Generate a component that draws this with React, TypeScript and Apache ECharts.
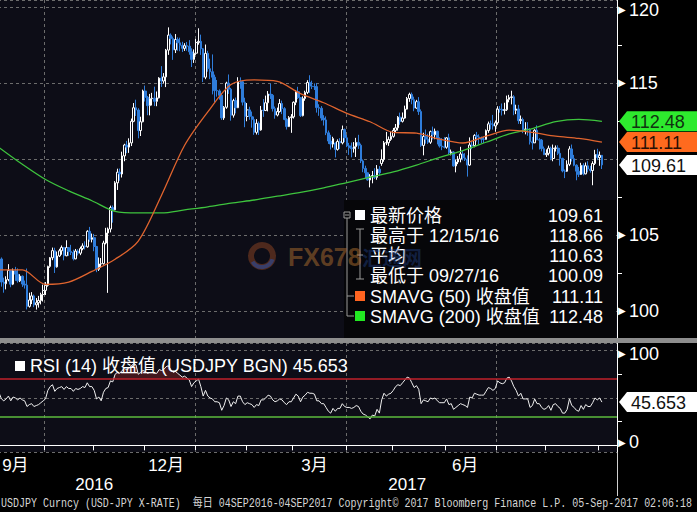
import React, { useEffect, useRef } from "react";
import * as echarts from "echarts";

// Daily candles: [open, close, low, high]
const sep2016 = [
  [103.95, 103.42, 103.27, 104.06], [103.42, 101.9, 101.6, 103.52], [101.9, 101.79, 101.2, 102.19], [101.79, 102.06, 101.42, 102.28],
  [102.06, 102.67, 101.95, 103.08], [102.67, 101.76, 101.56, 102.7], [101.76, 102.64, 101.7, 102.79], [102.64, 102.42, 101.98, 102.9],
  [102.42, 101.98, 101.86, 102.8], [101.98, 102.29, 101.9, 102.42], [102.29, 101.77, 101.58, 102.33], [101.77, 101.7, 101.47, 102.0],
  [101.7, 100.3, 100.1, 102.79], [100.3, 100.72, 100.22, 101.2], [100.72, 100.99, 100.45, 101.24], [100.99, 100.4, 100.25, 101.08],
  [100.4, 100.54, 100.09, 100.85], [100.54, 100.69, 100.22, 100.99], [100.69, 101.08, 100.43, 101.2], [101.08, 101.35, 100.62, 101.73],
];
const oct2016 = [
  [101.35, 101.69, 101.05, 101.9], [101.69, 102.93, 101.6, 102.98], [102.93, 103.5, 102.84, 103.55], [103.5, 103.97, 103.34, 104.17],
  [103.97, 102.9, 102.5, 104.16], [102.9, 103.62, 102.85, 103.91], [103.62, 103.96, 103.55, 104.09], [103.96, 104.18, 103.7, 104.31],
  [104.18, 103.63, 103.33, 104.21], [103.63, 104.17, 103.6, 104.65], [104.17, 103.91, 103.62, 104.2], [103.91, 103.85, 103.68, 104.35],
  [103.85, 103.43, 103.32, 104.03], [103.43, 103.94, 103.4, 104.08], [103.94, 103.8, 103.65, 104.06], [103.8, 104.1, 103.67, 104.23],
  [104.1, 104.28, 103.99, 104.45], [104.28, 104.22, 104.04, 104.58], [104.22, 105.24, 104.16, 105.31], [105.24, 104.71, 104.55, 105.53],
  [104.71, 104.82, 104.51, 105.09],
];
const nov2016 = [
  [104.82, 104.24, 103.93, 105.07], [104.24, 102.74, 102.55, 104.28], [102.74, 103.09, 102.63, 103.52], [103.09, 103.11, 102.83, 103.48],
  [103.11, 104.47, 103.05, 104.62], [104.47, 105.13, 104.38, 105.47], [105.13, 105.39, 101.19, 105.49], [105.39, 106.8, 105.17, 106.93],
  [106.8, 106.65, 105.81, 106.94], [106.65, 108.43, 106.62, 108.54], [108.43, 109.13, 107.96, 109.36], [109.13, 109.01, 108.57, 109.37],
  [109.01, 110.2, 108.78, 110.48], [110.2, 110.92, 109.85, 111.0], [110.92, 110.78, 110.38, 111.19], [110.78, 111.06, 110.4, 111.36],
  [111.06, 112.48, 110.85, 112.66], [112.48, 113.37, 112.42, 113.68], [113.37, 113.22, 112.83, 113.9], [113.22, 111.87, 111.36, 113.34],
  [111.87, 112.45, 111.51, 112.78], [112.45, 114.47, 112.41, 114.56],
];
const dec2016 = [
  [114.47, 114.06, 113.78, 114.83], [114.06, 113.51, 112.88, 114.15], [113.51, 113.97, 112.87, 114.28], [113.97, 114.0, 113.52, 114.35],
  [114.0, 113.79, 113.48, 114.76], [113.79, 114.02, 113.47, 114.44], [114.02, 115.32, 113.98, 115.38], [115.32, 115.13, 114.74, 116.11],
  [115.13, 115.4, 114.96, 115.65], [115.4, 117.16, 114.73, 117.24], [117.16, 118.15, 116.85, 118.66], [118.15, 117.92, 117.54, 118.26],
  [117.92, 117.18, 116.52, 118.06], [117.18, 117.86, 116.97, 118.22], [117.86, 117.64, 117.12, 118.0], [117.64, 117.48, 117.09, 117.98],
  [117.48, 117.28, 117.04, 117.71], [117.28, 117.45, 117.11, 117.62], [117.45, 117.42, 117.12, 117.7], [117.42, 117.05, 116.86, 117.82],
  [117.05, 116.55, 116.05, 117.28], [116.55, 116.96, 116.32, 117.21],
];
const jan2017 = [
  [116.96, 117.66, 116.85, 117.9], [117.66, 117.74, 117.52, 118.6], [117.74, 117.25, 116.85, 118.18], [117.25, 115.38, 115.06, 117.3],
  [115.38, 116.95, 115.25, 117.53], [116.95, 115.94, 115.74, 117.12], [115.94, 115.74, 115.25, 116.6], [115.74, 115.38, 114.25, 116.88],
  [115.38, 114.5, 113.75, 115.55], [114.5, 114.48, 114.1, 115.2], [114.48, 114.19, 113.9, 114.58], [114.19, 112.7, 112.57, 114.3],
  [112.7, 113.4, 112.57, 113.48], [113.4, 114.99, 113.3, 115.08], [114.99, 114.59, 114.28, 115.56], [114.59, 112.88, 112.52, 114.68],
  [112.88, 113.84, 112.72, 113.96], [113.84, 113.37, 113.0, 114.04], [113.37, 115.1, 113.35, 115.38], [115.1, 115.08, 114.62, 115.37],
  [115.08, 113.74, 113.52, 115.16], [113.74, 112.8, 112.09, 114.03],
];
const feb2017 = [
  [112.8, 113.23, 112.48, 113.68], [113.23, 112.8, 112.58, 113.44], [112.8, 112.59, 112.06, 113.12], [112.59, 111.75, 111.59, 112.79],
  [111.75, 112.35, 111.61, 112.62], [112.35, 111.91, 111.58, 112.47], [111.91, 113.21, 111.86, 113.49], [113.21, 113.19, 112.77, 113.94],
  [113.19, 113.7, 113.15, 114.17], [113.7, 114.27, 113.13, 114.47], [114.27, 114.19, 113.95, 114.95], [114.19, 113.31, 113.12, 114.27],
  [113.31, 112.89, 112.65, 113.45], [112.89, 113.12, 112.8, 113.38], [113.12, 113.65, 113.05, 113.94], [113.65, 113.31, 112.95, 113.84],
  [113.31, 112.6, 112.55, 113.41], [112.6, 112.13, 111.94, 112.68], [112.13, 112.72, 112.1, 112.82], [112.72, 112.77, 111.72, 112.95],
];
const mar2017 = [
  [112.77, 113.73, 112.66, 113.79], [113.73, 114.43, 113.54, 114.54], [114.43, 114.04, 113.94, 114.75], [114.04, 112.85, 112.76, 114.05],
  [112.85, 113.98, 112.8, 114.12], [113.98, 114.38, 113.83, 114.49], [114.38, 115.03, 114.27, 115.18], [115.03, 114.79, 114.35, 115.51],
  [114.79, 114.77, 114.6, 115.15], [114.77, 114.76, 114.54, 114.97], [114.76, 113.38, 113.05, 115.0], [113.38, 113.34, 112.84, 113.6],
  [113.34, 112.69, 112.52, 113.48], [112.69, 112.57, 112.2, 112.88], [112.57, 111.72, 111.57, 112.8], [111.72, 111.18, 110.99, 111.87],
  [111.18, 110.98, 110.62, 111.59], [110.98, 111.34, 110.75, 111.46], [111.05, 110.63, 110.1, 111.09], [110.63, 111.15, 110.55, 111.29],
  [111.15, 111.06, 110.65, 111.37], [111.06, 111.93, 110.96, 112.2], [111.93, 111.39, 111.11, 112.0],
];
const apr2017 = [
  [111.39, 110.86, 110.78, 111.58], [110.86, 110.74, 110.27, 111.06], [110.74, 110.68, 110.11, 111.08], [110.68, 110.81, 110.42, 111.11],
  [110.81, 111.09, 110.13, 111.39], [111.09, 110.9, 110.66, 111.59], [110.9, 109.87, 109.73, 111.01], [109.87, 109.38, 109.13, 109.97],
  [109.38, 109.09, 108.74, 109.56], [109.09, 108.62, 108.57, 109.12], [108.62, 108.86, 108.13, 109.0], [108.86, 108.91, 108.4, 109.21],
  [108.91, 108.79, 108.68, 109.39], [108.79, 109.33, 108.63, 109.6], [109.33, 109.09, 108.89, 109.53], [109.7, 109.97, 109.55, 110.63],
  [109.97, 111.06, 109.82, 111.18], [111.06, 111.07, 110.91, 111.78], [111.07, 111.29, 110.86, 111.48], [111.29, 111.49, 111.19, 111.79],
];
const may2017 = [
  [111.49, 111.88, 111.4, 112.04], [111.88, 112.05, 111.71, 112.3], [112.05, 112.75, 111.87, 112.82], [112.75, 112.48, 112.25, 113.05],
  [112.48, 112.69, 112.4, 113.06], [112.69, 113.28, 112.65, 113.51], [113.28, 113.98, 113.25, 114.08], [113.98, 114.25, 113.76, 114.36],
  [114.25, 113.9, 113.6, 114.37], [113.9, 113.35, 113.14, 114.1], [113.35, 113.77, 113.3, 113.89], [113.77, 113.12, 112.9, 114.07],
  [113.12, 110.89, 110.8, 113.26], [110.89, 111.48, 110.24, 111.73], [111.48, 111.3, 111.01, 111.94], [111.3, 111.1, 110.99, 111.66],
  [111.1, 111.8, 110.99, 111.87], [111.8, 111.59, 111.28, 112.13], [111.59, 111.83, 111.3, 112.0], [111.83, 111.33, 110.96, 111.86],
  [111.33, 110.85, 110.75, 111.43], [110.85, 110.8, 110.58, 111.37], [110.8, 110.77, 110.69, 111.44],
];
const jun2017 = [
  [110.77, 111.39, 110.67, 111.44], [111.39, 110.41, 110.32, 111.66], [110.41, 110.45, 110.24, 110.62], [110.45, 109.54, 109.5, 110.51],
  [109.54, 109.8, 109.12, 109.95], [109.8, 110.0, 109.66, 110.19], [110.0, 110.33, 109.78, 110.8], [110.33, 110.07, 109.91, 110.54],
  [110.07, 109.98, 109.87, 110.38], [109.98, 109.6, 108.84, 110.24], [109.6, 110.92, 109.55, 111.42], [110.92, 110.88, 110.64, 111.2],
  [110.88, 111.55, 110.77, 111.63], [111.55, 111.45, 111.15, 111.78], [111.45, 111.39, 110.95, 111.62], [111.39, 111.3, 111.04, 111.47],
  [111.3, 111.29, 111.05, 111.46], [111.29, 111.87, 111.27, 111.94], [111.87, 112.31, 111.72, 112.46], [112.31, 112.29, 111.94, 112.53],
  [112.29, 112.17, 111.93, 112.9], [112.17, 112.38, 111.79, 112.53],
];
const jul2017 = [
  [112.38, 113.28, 112.25, 113.47], [113.28, 113.25, 113.05, 113.48], [113.25, 113.2, 112.86, 113.65], [113.2, 113.24, 112.93, 113.7],
  [113.24, 113.92, 113.16, 114.17], [113.92, 114.04, 113.73, 114.22], [114.04, 114.09, 113.59, 114.49], [114.09, 113.2, 112.88, 114.2],
  [113.2, 113.29, 112.95, 113.57], [113.29, 112.52, 112.31, 113.56], [112.52, 112.6, 112.3, 112.86], [112.6, 111.93, 111.7, 112.72],
  [111.93, 111.97, 111.62, 112.42], [111.97, 111.93, 111.53, 112.42], [111.93, 111.13, 110.95, 112.02], [111.13, 111.06, 110.62, 111.45],
  [111.06, 111.89, 111.05, 111.96], [111.89, 111.26, 111.23, 112.21], [111.26, 111.24, 110.62, 111.37], [111.24, 110.68, 110.5, 111.31],
  [110.68, 110.28, 110.27, 110.82],
];
const aug2017 = [
  [110.28, 110.37, 110.13, 110.63], [110.37, 110.71, 110.23, 110.88], [110.71, 110.03, 109.92, 110.81], [110.03, 110.7, 109.85, 110.95],
  [110.7, 110.73, 110.49, 110.89], [110.73, 110.37, 110.26, 110.9], [110.37, 110.04, 109.56, 110.73], [110.04, 109.21, 109.12, 110.08],
  [109.21, 109.19, 108.74, 109.31], [109.19, 109.65, 109.15, 109.91], [109.65, 110.66, 109.53, 110.84], [110.66, 110.02, 109.83, 110.95],
  [110.02, 109.59, 109.52, 110.27], [109.59, 109.2, 108.6, 109.65], [109.2, 108.98, 108.81, 109.48], [108.98, 109.58, 108.95, 109.75],
  [109.58, 109.02, 108.92, 109.72], [109.02, 109.55, 108.99, 109.77], [109.55, 109.34, 109.12, 109.85], [109.34, 109.24, 109.1, 109.55],
  [109.24, 109.7, 108.27, 109.85], [109.7, 110.3, 109.6, 110.6], [110.3, 110.09, 109.92, 110.67],
];
const sep2017 = [
  [110.09, 110.24, 109.55, 110.49], [110.24, 109.61, 109.34, 110.03],
];

// Moving averages read at every 10th trading day
const smaIdx = [0, 10, 20, 30, 40, 50, 60, 70, 80, 90, 100, 110, 120, 130, 140, 150, 160, 170, 180, 190, 200, 210, 220, 230, 240, 250, 260];
const sma50 = [102.7, 102.7, 101.75, 101.9, 102.6, 103.4, 104.6, 107.6, 110.9, 113.1, 114.9, 115.2, 115.1, 114.3, 113.7, 113.0, 112.45, 111.75, 111.7, 111.3, 111.05, 111.5, 111.9, 111.75, 111.5, 111.35, 111.11];
const sma200 = [110.75, 109.65, 108.65, 107.9, 107.25, 106.55, 106.45, 106.45, 106.65, 106.85, 107.1, 107.3, 107.55, 107.8, 108.1, 108.45, 108.8, 109.15, 109.6, 110.1, 110.55, 111.1, 111.65, 112.0, 112.45, 112.6, 112.48];

// RSI(14), daily
const rsi14 = [
  55, 49, 47, 49, 52, 47, 51, 50, 48, 50,
  48, 47, 41, 43, 44, 41, 42, 43, 45, 47,
  49, 58, 62, 64, 57, 60, 61, 62, 59, 62,
  60, 60, 57, 60, 59, 60, 62, 61, 66, 62,
  62, 58, 49, 51, 47, 56, 60, 61, 68, 67,
  75, 77, 76, 79, 81, 80, 81, 84, 86, 85,
  75, 77, 79, 78, 76, 77, 77, 76, 76, 80,
  79, 80, 83, 84, 80, 77, 78, 76, 74, 72,
  73, 71, 69, 62, 66, 68, 70, 62, 52, 58,
  52, 50, 49, 46, 46, 45, 37, 42, 50, 48,
  41, 46, 44, 52, 52, 46, 43, 45, 44, 43,
  40, 43, 42, 48, 48, 50, 53, 52, 48, 46,
  47, 49, 48, 45, 43, 46, 46, 50, 54, 52,
  46, 51, 53, 56, 55, 55, 54, 47, 47, 44,
  44, 40, 36, 34, 39, 36, 39, 39, 44, 41,
  40, 40, 39, 40, 42, 41, 36, 33, 32, 30,
  28, 32, 31, 38, 34, 48, 55, 52, 54, 55,
  58, 62, 64, 63, 66, 69, 72, 71, 66, 61,
  63, 59, 44, 48, 47, 46, 50, 49, 50, 47,
  45, 45, 45, 49, 43, 44, 38, 40, 42, 44,
  43, 42, 40, 51, 50, 55, 54, 53, 53, 53,
  57, 61, 60, 58, 60, 68, 66, 65, 66, 71,
  72, 68, 62, 58, 52, 55, 49, 49, 49, 40,
  42, 49, 44, 44, 40, 38, 39, 42, 37, 43,
  44, 41, 39, 34, 34, 38, 49, 42, 40, 37,
  36, 42, 38, 43, 41, 41, 45, 50, 48, 50,
  45.653,
];

const priceTicks = [100, 105, 115, 120];
const rsiTicks = [0, 100];
const monthLabelDates = ["2016-09-14", "2016-12-14", "2017-03-14", "2017-06-13"];
const monthLabels = ["9月", "12月", "3月", "6月"];
const yearLabelDates = ["2016-11-01", "2017-05-09"];
const yearLabels = ["2016", "2017"];
const yearBreakDate = "2017-01-02";

const legendLabels = ["最新价格", "最高于 12/15/16", "平均", "最低于 09/27/16", "SMAVG (50) 收盘值", "SMAVG (200) 收盘值"];
const legendValues = ["109.61", "118.66", "110.63", "100.09", "111.11", "112.48"];
const rsiLegend = "RSI (14) 收盘值 (USDJPY BGN) 45.653";
const footerText = "USDJPY Curncy (USD-JPY X-RATE)  每日 04SEP2016-04SEP2017 Copyright© 2017 Bloomberg Finance L.P. 05-Sep-2017 02:06:18";

const candles = [...sep2016, ...oct2016, ...nov2016, ...dec2016, ...jan2017, ...feb2017, ...mar2017, ...apr2017, ...may2017, ...jun2017, ...jul2017, ...aug2017, ...sep2017];

const FONT = '"Liberation Sans", "Noto Sans CJK SC", sans-serif';
const BG = "#0d0d17";
const GRIDC = "#6c6c6c";

function tradingDays(start: string, end: string): string[] {
  const out: string[] = [];
  const d = new Date(start + "T00:00:00Z");
  const e = new Date(end + "T00:00:00Z");
  while (d <= e) {
    const wd = d.getUTCDay();
    if (wd !== 0 && wd !== 6) out.push(d.toISOString().slice(0, 10));
    d.setUTCDate(d.getUTCDate() + 1);
  }
  return out;
}

const dates = tradingDays("2016-09-05", "2017-09-04").slice(0, candles.length);
const cats = [...dates, "p1", "p2", "p3", "p4", "p5", "p6"];

const isMonthStart = (i: number) => i > 0 && i < dates.length && dates[i].slice(0, 7) !== dates[i - 1].slice(0, 7);
const isQuarterStart = (i: number) => isMonthStart(i) && [1, 4, 7, 10].includes(+dates[i].slice(5, 7));
const monthIdx = monthLabelDates.map((d) => dates.indexOf(d));
const yearIdx = yearLabelDates.map((d) => dates.indexOf(d));
const yearBreakIdx = dates.indexOf(yearBreakDate);

const dashed = { color: GRIDC, type: [3, 3] as any, width: 1 };

// labels at the top edge are nudged down, at the bottom edge nudged up (as Bloomberg does)
function makeLabel(ticks: number[], top: number, bottom: number) {
  return (v: number) => {
    const r = Math.round(v);
    if (Math.abs(v - r) > 1e-6 || !ticks.includes(r)) return "";
    if (r === top) return `{ta|▶}{va|${r}}`;
    if (r === bottom) return `{tb|▶}{vb|${r}}`;
    return `{t|▶}{v|${r}}`;
  };
}

const rich = {
  t: { fontSize: 10, color: "#fff", padding: [0, 3, 0, 0] },
  v: { fontSize: 18, color: "#fff", fontFamily: FONT },
  ta: { fontSize: 10, color: "#fff", padding: [6, 3, 0, 0] },
  va: { fontSize: 18, color: "#fff", fontFamily: FONT, padding: [6, 0, 0, 0] },
  tb: { fontSize: 10, color: "#fff", padding: [0, 3, 6, 0] },
  vb: { fontSize: 18, color: "#fff", fontFamily: FONT, padding: [0, 0, 6, 0] },
};

function buildOption(): any {
  return {
    animation: false,
    backgroundColor: "#000",
    grid: [
      { left: -2, right: 80, top: 0, height: 338, show: true, backgroundColor: BG, borderWidth: 0, containLabel: false, outerBoundsMode: "none" },
      { left: -2, right: 80, top: 343, height: 109, show: true, backgroundColor: BG, borderWidth: 0, containLabel: false, outerBoundsMode: "none" },
    ],
    xAxis: [
      {
        type: "category", gridIndex: 0, data: cats, boundaryGap: true,
        axisLine: { show: false }, axisTick: { show: false }, axisLabel: { show: false },
        splitLine: { show: true, interval: (i: number) => isQuarterStart(i), lineStyle: dashed },
      },
      {
        type: "category", gridIndex: 1, data: cats, boundaryGap: true, position: "bottom",
        axisLine: { show: true, lineStyle: { color: "#fff", width: 1 } },
        axisTick: { show: true, interval: (i: number) => isMonthStart(i), length: 5, lineStyle: { color: "#fff" } },
        axisLabel: {
          show: true, interval: (i: number) => monthIdx.includes(i),
          formatter: (v: string) => { const k = monthLabelDates.indexOf(v); return k >= 0 ? monthLabels[k] : ""; },
          color: "#fff", fontSize: 17, fontFamily: FONT, margin: 5,
        },
        splitLine: { show: true, interval: (i: number) => isQuarterStart(i), lineStyle: dashed },
      },
      {
        type: "category", gridIndex: 1, data: cats, boundaryGap: true, position: "bottom",
        axisLine: { show: false },
        axisTick: { show: true, interval: (i: number) => i === yearBreakIdx, length: 44, lineStyle: { color: "#d0d0d0" } },
        axisLabel: {
          show: true, interval: (i: number) => yearIdx.includes(i),
          formatter: (v: string) => { const k = yearLabelDates.indexOf(v); return k >= 0 ? yearLabels[k] : ""; },
          color: "#fff", fontSize: 17, fontFamily: FONT, margin: 24,
        },
        splitLine: { show: false },
      },
    ],
    yAxis: [
      {
        type: "value", gridIndex: 0, position: "right", min: 98.22, max: 120.46, splitNumber: 5,
        axisLine: { show: true, lineStyle: { color: "#fff", width: 1 } },
        axisTick: { show: false },
        minorTick: { show: true, splitNumber: 2, length: 5, lineStyle: { color: "#fff" } },
        axisLabel: { margin: 1, color: "#fff", formatter: makeLabel(priceTicks, 120, -1), rich },
        splitLine: { show: true, lineStyle: dashed },
      },
      {
        type: "value", gridIndex: 1, position: "right", min: -7, max: 108, splitNumber: 2,
        axisLine: { show: true, lineStyle: { color: "#fff", width: 1 } },
        axisTick: { show: false },
        minorTick: { show: true, splitNumber: 2, length: 5, lineStyle: { color: "#fff" } },
        axisLabel: { margin: 1, color: "#fff", formatter: makeLabel(rsiTicks, 100, 0), rich },
        splitLine: { show: true, lineStyle: dashed },
      },
    ],
    series: [
      {
        type: "candlestick", xAxisIndex: 0, yAxisIndex: 0, data: candles, barWidth: "90%", silent: true,
        itemStyle: { color: BG, color0: "#2f7ddb", borderColor: "#ffffff", borderColor0: "#2f7ddb", borderWidth: 1 },
      },
      {
        type: "line", xAxisIndex: 0, yAxisIndex: 0, data: smaIdx.map((ix, k) => [ix, sma200[k]]),
        symbol: "none", smooth: 0.3, silent: true, lineStyle: { color: "#3ec43e", width: 1.3 },
      },
      {
        type: "line", xAxisIndex: 0, yAxisIndex: 0, data: smaIdx.map((ix, k) => [ix, sma50[k]]),
        symbol: "none", smooth: 0.3, silent: true, lineStyle: { color: "#e0642e", width: 1.3 },
      },
      {
        type: "line", xAxisIndex: 1, yAxisIndex: 1, stack: "ob", data: rsi14.map(() => 70),
        symbol: "none", silent: true, lineStyle: { width: 0, opacity: 0 },
      },
      {
        type: "line", xAxisIndex: 1, yAxisIndex: 1, stack: "ob", data: rsi14.map((v) => Math.max(v - 70, 0)),
        symbol: "none", silent: true, lineStyle: { width: 0, opacity: 0 }, areaStyle: { color: "rgba(130,38,38,0.65)" },
      },
      {
        type: "line", xAxisIndex: 1, yAxisIndex: 1, data: rsi14, symbol: "none", silent: true,
        lineStyle: { color: "#f0f0f0", width: 1 },
        markLine: {
          symbol: ["none", "none"], silent: true, label: { show: false },
          data: [
            { yAxis: 70, lineStyle: { color: "#c0212b", width: 1.5, type: "solid" } },
            { yAxis: 30, lineStyle: { color: "#5dbb3e", width: 1.5, type: "solid" } },
          ],
        },
      },
    ],
  };
}

function tag(y: number, text: string, fill: string, textFill: string): any[] {
  return [
    { type: "polygon", z: 80, shape: { points: [[619, y], [627, y - 10], [697, y - 10], [697, y + 10], [627, y + 10]] }, style: { fill } },
    { type: "text", z: 81, x: 631, y: y + 1, style: { text, fill: textFill, font: `18px ${FONT}`, textVerticalAlign: "middle" } },
  ];
}

function buildGraphics(y0: (v: number) => number, y1: (v: number) => number): any[] {
  const g: any[] = [];
  const line = (x1: number, yA: number, x2: number, yB: number, stroke = "#9a9a9a") =>
    ({ type: "line", z: 45, shape: { x1, y1: yA, x2, y2: yB }, style: { stroke, lineWidth: 1 } });

  // panel separator
  g.push({ type: "rect", z: 40, shape: { x: 0, y: 338, width: 697, height: 5 }, style: { fill: "#8e8e8e" } });
  // legend box
  g.push({ type: "rect", z: 40, shape: { x: 344, y: 200, width: 272, height: 138 }, style: { fill: "#060609" } });
  const rows = [215, 235, 255, 275, 296, 316];
  // tree glyphs
  g.push({ type: "rect", z: 45, shape: { x: 344, y: 212, width: 6, height: 6 }, style: { fill: "none", stroke: "#9a9a9a", lineWidth: 1 } });
  g.push(line(345, 215, 349, 215));
  g.push(line(347, 218, 347, 316));
  g.push(line(347, 296, 354, 296));
  g.push(line(347, 316, 354, 316));
  g.push(line(360, 229, 360, 279));
  g.push(line(356, 229, 364, 229));
  g.push(line(356, 279, 364, 279));
  g.push(line(357, 255, 363, 255));
  const squares = ["#ffffff", null, null, null, "#ff6420", "#22e822"];
  rows.forEach((y, k) => {
    if (squares[k]) g.push({ type: "rect", z: 46, shape: { x: 355, y: y - 5, width: 10, height: 10 }, style: { fill: squares[k] } });
    g.push({ type: "text", z: 46, x: 370, y: y + 1, style: { text: legendLabels[k], fill: "#fff", font: `18px ${FONT}`, textVerticalAlign: "middle" } });
    g.push({ type: "text", z: 46, x: 603, y: y + 1, style: { text: legendValues[k], fill: "#fff", font: `18px ${FONT}`, textAlign: "right", textVerticalAlign: "middle" } });
  });

  // RSI legend
  g.push({ type: "rect", z: 46, shape: { x: 15, y: 361, width: 10, height: 10 }, style: { fill: "#fff" } });
  g.push({ type: "text", z: 46, x: 30, y: 366, style: { text: rsiLegend, fill: "#fff", font: `18px ${FONT}`, textVerticalAlign: "middle" } });

  // watermark
  g.push({ type: "ring", z: 60, shape: { cx: 262, cy: 256, r: 14, r0: 8 }, style: { fill: "rgba(200,95,40,0.35)" } });
  g.push({ type: "arc", z: 61, shape: { cx: 262, cy: 256, r: 11, startAngle: 0.3, endAngle: 2.6 }, style: { stroke: "rgba(40,80,170,0.55)", lineWidth: 4, fill: "none" } });
  g.push({ type: "text", z: 60, x: 288, y: 257, style: { text: "FX678", fill: "rgba(165,105,45,0.55)", font: `bold 25px ${FONT}`, textVerticalAlign: "middle" } });
  g.push({ type: "text", z: 60, x: 362, y: 257, style: { text: "汇通网", fill: "rgba(40,80,170,0.35)", font: `bold 20px "Noto Sans CJK SC"`, textVerticalAlign: "middle" } });

  // footer
  g.push({ type: "text", z: 50, x: 1, y: 504, scaleX: 0.833, style: { text: footerText, fill: "#d6d6d6", font: `12px "Liberation Mono", "Noto Sans CJK SC", monospace`, textVerticalAlign: "middle" } });

  // value tags on the right axis
  const last = candles[candles.length - 1];
  g.push(...tag(y0(sma200[sma200.length - 1]), sma200[sma200.length - 1].toFixed(2), "#2eea2e", "#113311"));
  g.push(...tag(y0(sma50[sma50.length - 1]), sma50[sma50.length - 1].toFixed(2), "#ff6a1e", "#2a1005"));
  g.push(...tag(y0(last[1]), last[1].toFixed(2), "#ffffff", "#111111"));
  g.push(...tag(y1(rsi14[rsi14.length - 1]), rsi14[rsi14.length - 1].toFixed(3), "#ffffff", "#111111"));
  return g;
}

export default function App() {
  const ref = useRef<HTMLDivElement>(null);
  useEffect(() => {
    if (!ref.current) return;
    const chart = echarts.init(ref.current, undefined, { renderer: "svg", width: 697, height: 512 });
    chart.setOption(buildOption());
    const y0 = (v: number) => chart.convertToPixel({ yAxisIndex: 0 } as any, v) as unknown as number;
    const y1 = (v: number) => chart.convertToPixel({ yAxisIndex: 1 } as any, v) as unknown as number;
    chart.setOption({ graphic: buildGraphics(y0, y1) });
    return () => chart.dispose();
  }, []);
  return (
    <div style={{ position: "absolute", left: 0, top: 0, width: 697, height: 512, background: "#000" }}>
      <div ref={ref} style={{ width: 697, height: 512 }} />
    </div>
  );
}
